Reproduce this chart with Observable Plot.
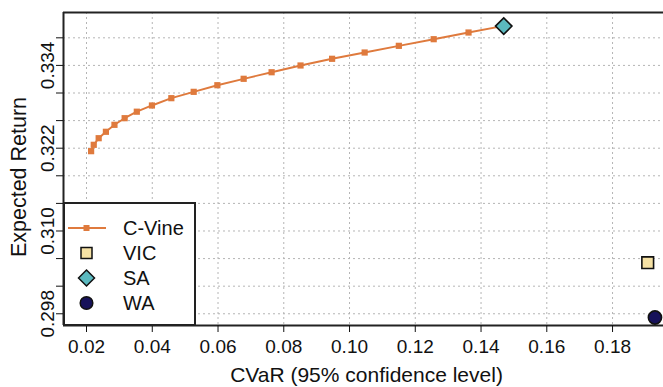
<!DOCTYPE html>
<html><head><meta charset="utf-8">
<script src="https://cdn.jsdelivr.net/npm/d3@7"></script>
<script src="https://cdn.jsdelivr.net/npm/@observablehq/plot@0.6"></script>
<style>
body{margin:0;background:#fff;font-family:"Liberation Sans",Arial,sans-serif;}
#wrap{position:relative;width:663px;height:387px;overflow:hidden;}
.legend{position:absolute;left:63px;top:202px;width:133px;height:124px;background:#fff;border:2px solid #222;box-sizing:border-box;}
.row{position:absolute;left:0;height:24px;width:130px;font-size:20px;color:#111;}
.row svg{position:absolute;left:0;top:0;}
.row span{position:absolute;left:58px;top:1px;line-height:22px;}
</style></head><body><div id="wrap"></div>
<script>
// C-Vine efficient frontier (CVaR, expected return)
const cvineCVaR = [0.0214, 0.0222, 0.0237, 0.0259, 0.0285, 0.0316, 0.0353, 0.0399, 0.0458, 0.0526, 0.0598, 0.0678, 0.0763, 0.0851, 0.0947, 0.1046, 0.1150, 0.1256, 0.1362, 0.1469];
const cvineReturn = [0.32157, 0.32249, 0.32345, 0.32438, 0.32539, 0.32635, 0.32729, 0.32819, 0.32925, 0.33017, 0.33113, 0.33206, 0.33301, 0.33399, 0.33496, 0.33587, 0.33684, 0.33780, 0.33877, 0.33974];
// Single portfolios
const portfolioNames = ["VIC", "SA", "WA"];
const portfolioCVaR = [0.1907, 0.1469, 0.1929];
const portfolioReturn = [0.3054, 0.3397, 0.29746];
const portfolioSymbols = ["square", "diamond2", "circle"];
const portfolioColors = ["#F5E1A4", "#5BB9BF", "#17125A"];
// Axes
const xTicks = [0.02, 0.04, 0.06, 0.08, 0.10, 0.12, 0.14, 0.16, 0.18];
const yTicks = [0.298, 0.302, 0.306, 0.310, 0.314, 0.318, 0.322, 0.326, 0.330, 0.334, 0.338];
const yTickLabels = [0.298, 0.310, 0.322, 0.334];
const xDomain = [0.0130, 0.1955];
const yDomain = [0.2963, 0.34167];
const xLabel = "CVaR (95% confidence level)";
const yLabel = "Expected Return";

const lineColor = "#DF7A3D";
const cvine = cvineCVaR.map((x, i) => ({x, y: cvineReturn[i]}));
const singles = portfolioNames.map((name, i) => ({name, x: portfolioCVaR[i], y: portfolioReturn[i], symbol: portfolioSymbols[i], color: portfolioColors[i]}));
const labeled = new Set(yTickLabels.map(v => Math.round(v * 1000)));
const font = "Liberation Sans, Arial, sans-serif";

const chart = Plot.plot({
  width: 663, height: 387,
  marginLeft: 63, marginTop: 12, marginBottom: 62, marginRight: 0,
  style: {fontFamily: font, fontSize: "19px", color: "#111", background: "#fff"},
  x: {domain: xDomain},
  y: {domain: yDomain},
  r: {type: "identity"},
  marks: [
    Plot.gridX(xTicks, {stroke: "#b5b5b5", strokeOpacity: 1, strokeDasharray: "2,3"}),
    Plot.gridY(yTicks, {stroke: "#b5b5b5", strokeOpacity: 1, strokeDasharray: "2,3"}),
    Plot.line(cvine, {x: "x", y: "y", stroke: lineColor, strokeWidth: 1.9}),
    Plot.dot(cvine, {x: "x", y: "y", symbol: "square", r: 3.5, fill: lineColor}),
    Plot.ruleY([yDomain[1]], {stroke: "#222", strokeWidth: 2}),
    Plot.ruleY([yDomain[0]], {stroke: "#222", strokeWidth: 2}),
    Plot.ruleX([xDomain[0]], {stroke: "#222", strokeWidth: 2}),
    Plot.axisX(xTicks, {tickSize: 7, tickPadding: 7, tickFormat: d => d.toFixed(2), fontSize: 19,
      label: xLabel, labelAnchor: "center", labelOffset: 56, labelArrow: "none"}),
    Plot.axisY(yTicks, {tickSize: 7, tickPadding: 3, tickRotate: -90, fontSize: 19,
      tickFormat: d => labeled.has(Math.round(d * 1000)) ? d.toFixed(3) : "",
      label: yLabel, labelAnchor: "center", labelOffset: 53, labelArrow: "none"}),
    Plot.dot(singles, {x: "x", y: "y", symbol: "symbol", fill: "color", stroke: "#111", strokeWidth: 1.6,
      r: d => d.symbol === "diamond2" ? 7.4 : 6.6})
  ]
});
chart.querySelectorAll("text").forEach(t => {
  if (t.textContent === xLabel) { t.setAttribute("font-size", "21px"); t.setAttribute("dx", "3"); }
  if (t.textContent === yLabel) { t.setAttribute("font-size", "21.5px"); t.setAttribute("dx", "-8"); }
});
const wrap = document.getElementById("wrap");
wrap.appendChild(chart);

// Legend (HTML overlay inside the plot frame)
const legend = document.createElement("div");
legend.className = "legend";
const entries = [{name: "C-Vine", kind: "line"}].concat(singles.map(s => ({name: s.name, kind: s.symbol, color: s.color})));
entries.forEach((e, i) => {
  const row = document.createElement("div");
  row.className = "row";
  row.style.top = (12 + i * 25) + "px";
  let sym = "";
  if (e.kind === "line") {
    sym = `<line x1="3" x2="41" y1="12" y2="12" stroke="${lineColor}" stroke-width="2"/><rect x="18.5" y="9" width="6" height="6" fill="${lineColor}"/>`;
  } else if (e.kind === "square") {
    sym = `<rect x="16" y="6.5" width="11" height="11" fill="${e.color}" stroke="#111" stroke-width="1.5"/>`;
  } else if (e.kind === "diamond2") {
    sym = `<path d="M21.5,4 L29.5,12 L21.5,20 L13.5,12 Z" fill="${e.color}" stroke="#111" stroke-width="1.5"/>`;
  } else {
    sym = `<circle cx="21.5" cy="12" r="6.3" fill="${e.color}" stroke="#111" stroke-width="1.5"/>`;
  }
  row.innerHTML = `<svg width="50" height="24">${sym}</svg><span>${e.name}</span>`;
  legend.appendChild(row);
});
wrap.appendChild(legend);
</script>
</body></html>
